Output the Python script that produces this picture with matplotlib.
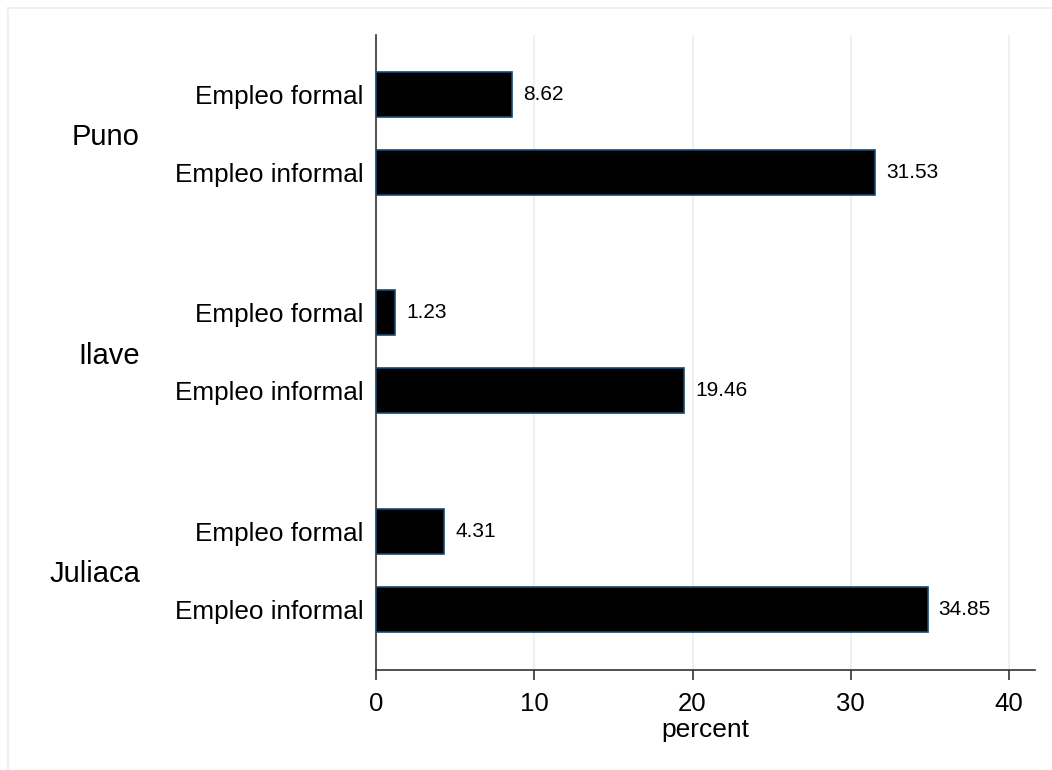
import numpy as np
import matplotlib.pyplot as plt
import matplotlib.transforms as mtransforms

plt.rcParams['font.family'] = ['Liberation Sans', 'DejaVu Sans']

# data
cities = ['Puno', 'Ilave', 'Juliaca']
categories = ['Empleo formal', 'Empleo informal']
values = {
    'Puno': [8.62, 31.53],
    'Ilave': [1.23, 19.46],
    'Juliaca': [4.31, 34.85],
}

W, H = 1052, 770
fig = plt.figure(figsize=(W / 100, H / 100), dpi=100)

# faint outer frame (only top and left visible)
fig.add_artist(plt.Line2D([8 / W, 1], [1 - 8 / H, 1 - 8 / H], transform=fig.transFigure,
                          color='#eaf2f3', lw=1.5))
fig.add_artist(plt.Line2D([8 / W, 8 / W], [0, 1 - 8 / H], transform=fig.transFigure,
                          color='#eaf2f3', lw=1.5))

ax = fig.add_axes([376 / W, 100 / H, (1035 - 376) / W, (670 - 35) / H])

group_step = 2.8
ypos, vals, labs = [], [], []
for g, city in enumerate(cities):
    for j, cat in enumerate(categories):
        ypos.append(g * group_step + j)
        vals.append(values[city][j])
        labs.append(cat)

ax.barh(ypos, vals, height=0.58, color='black', edgecolor='#1a476f', linewidth=1.2, zorder=3)

for y, v in zip(ypos, vals):
    ax.annotate(f'{v:.2f}', (v, y), xytext=(8, 0), textcoords='offset points',
                va='center', ha='left', fontsize=15)

ax.set_xlim(0, 41.64)
ax.set_ylim(7.38, -0.76)
ax.set_xticks([0, 10, 20, 30, 40])
ax.tick_params(axis='x', labelsize=18.5, length=7.5, width=1.2, color='#333333', pad=8)
ax.set_yticks(ypos)
ax.set_yticklabels(labs, fontsize=18.8)
ax.tick_params(axis='y', length=0, pad=9)
ax.set_xlabel('percent', fontsize=19, labelpad=2)

for x in [10, 20, 30, 40]:
    ax.axvline(x, color='#eaf2f3', lw=1.5, zorder=0)

for s in ['top', 'right']:
    ax.spines[s].set_visible(False)
for s in ['left', 'bottom']:
    ax.spines[s].set_color('#333333')
    ax.spines[s].set_linewidth(1.2)

# group labels
trans = mtransforms.blended_transform_factory(mtransforms.IdentityTransform(), ax.transData)
for g, city in enumerate(cities):
    ax.text(140, g * group_step + 0.55, city, fontsize=21, ha='right', va='center',
            transform=trans)

fig.savefig('out.png', dpi=100)
